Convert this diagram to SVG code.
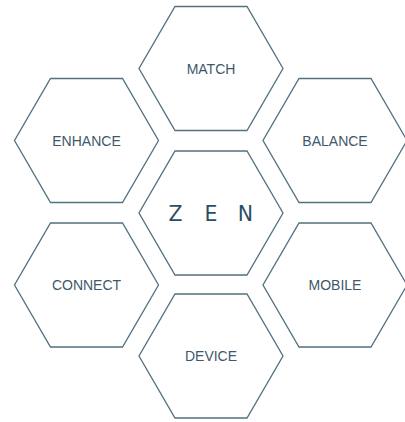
<svg xmlns="http://www.w3.org/2000/svg" xmlns:xlink="http://www.w3.org/1999/xlink" width="405" height="422" viewBox="0 0 405 422">
  <style>
    .hex { fill: #ffffff; stroke: #52707f; stroke-width: 1.3; stroke-linejoin: miter; }
    .lbl { font-family: "Liberation Sans", Arial, sans-serif; font-size: 14px; fill: #40586a; text-anchor: middle; }
    .zen { font-family: "DejaVu Sans", "Lato", sans-serif; font-weight: 400; font-size: 20.5px; fill: #2c4d63; text-anchor: middle; }
  </style>
  <defs>
    <polygon id="hexshape" class="hex" points="-36,-62 36,-62 72,0 36,62 -36,62 -72,0"/>
  </defs>
  <rect x="0" y="0" width="405" height="422" fill="#ffffff"/>
  <g id="connectors"></g>
  <g id="node-match" transform="translate(211,68.5)">
    <use xlink:href="#hexshape" href="#hexshape"/>
    <text class="lbl" x="0" y="5.2">MATCH</text>
  </g>
  <g id="node-enhance" transform="translate(86.5,140.5)">
    <use xlink:href="#hexshape" href="#hexshape"/>
    <text class="lbl" x="0" y="5.2">ENHANCE</text>
  </g>
  <g id="node-balance" transform="translate(335,140.5)">
    <use xlink:href="#hexshape" href="#hexshape"/>
    <text class="lbl" x="0" y="5.2">BALANCE</text>
  </g>
  <g id="node-zen" transform="translate(211,213)">
    <use xlink:href="#hexshape" href="#hexshape"/>
    <text class="zen" x="-35.5 0 34.5" y="7.6">ZEN</text>
  </g>
  <g id="node-connect" transform="translate(86.5,285)">
    <use xlink:href="#hexshape" href="#hexshape"/>
    <text class="lbl" x="0" y="5.2">CONNECT</text>
  </g>
  <g id="node-mobile" transform="translate(335,285)">
    <use xlink:href="#hexshape" href="#hexshape"/>
    <text class="lbl" x="0" y="5.2">MOBILE</text>
  </g>
  <g id="node-device" transform="translate(211,356)">
    <use xlink:href="#hexshape" href="#hexshape"/>
    <text class="lbl" x="0" y="5.2">DEVICE</text>
  </g>
</svg>
